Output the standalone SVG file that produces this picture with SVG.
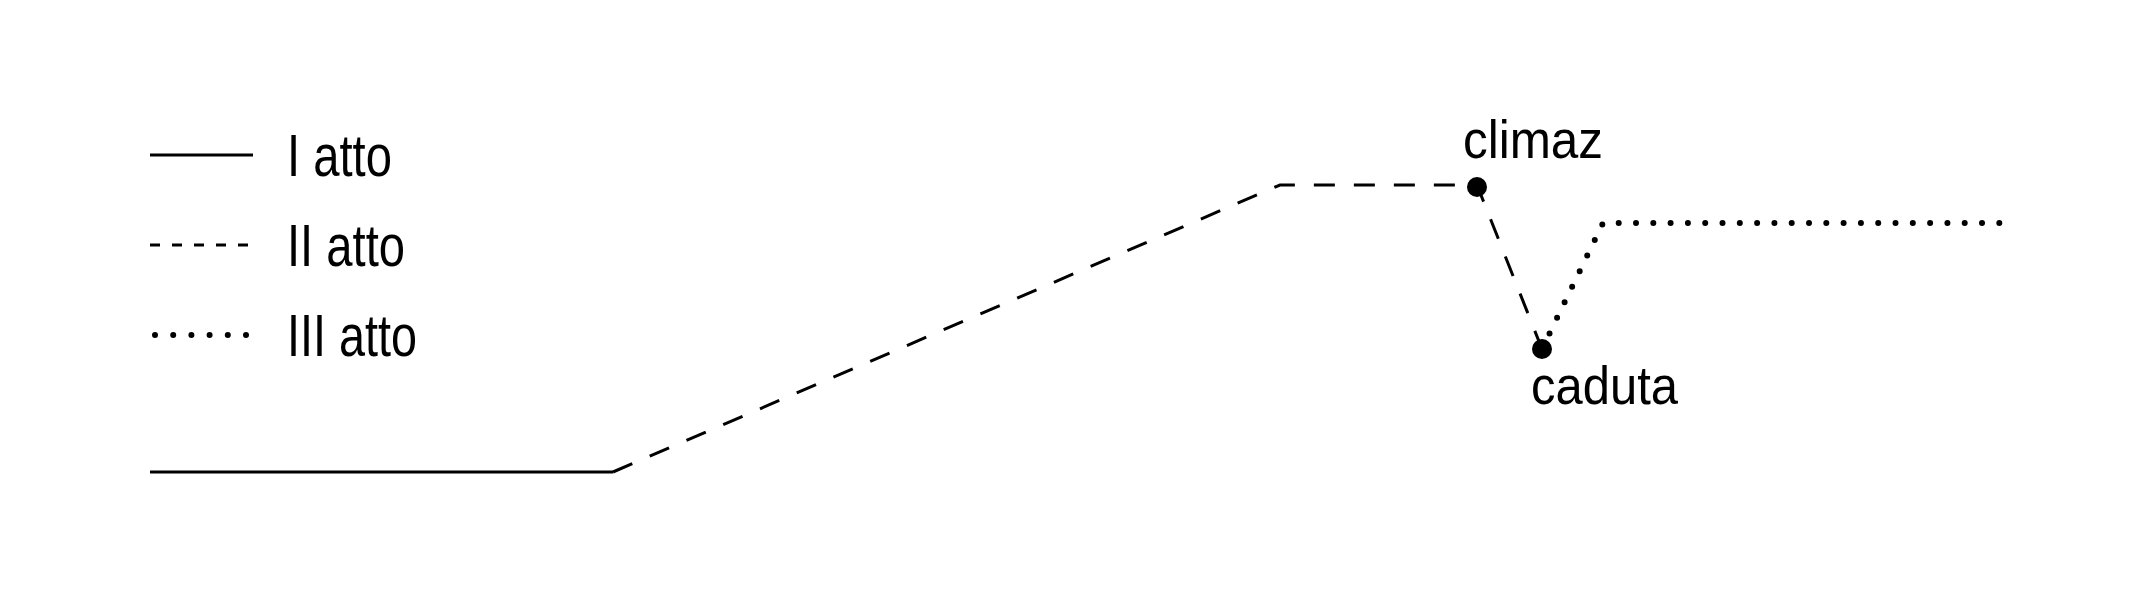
<svg xmlns="http://www.w3.org/2000/svg" width="2154" height="591" viewBox="0 0 2154 591">
<style>
.ln{fill:none;stroke:#000;stroke-width:3}
.dash{stroke-dasharray:21 19}
.ldash{stroke-dasharray:10 12}
.dot{stroke-width:6;stroke-linecap:round;stroke-dasharray:0 17.3}
.ldot{stroke-width:6;stroke-linecap:round;stroke-dasharray:0 18.2}
.t{font-family:"Liberation Sans","DejaVu Sans",sans-serif;fill:#000}
.pt{fill:#000}
</style>
<rect width="2154" height="591" fill="#fff"/>
<g id="legend">
  <line class="ln" x1="150" y1="155" x2="253" y2="155"/>
  <text class="t" x="287" y="176" font-size="59" textLength="105" lengthAdjust="spacingAndGlyphs">I atto</text>
  <line class="ln ldash" x1="150" y1="245" x2="253" y2="245"/>
  <text class="t" x="287" y="266" font-size="59" textLength="118" lengthAdjust="spacingAndGlyphs">II atto</text>
  <line class="ln ldot" x1="155" y1="335" x2="250" y2="335"/>
  <text class="t" x="287" y="356" font-size="59" textLength="130" lengthAdjust="spacingAndGlyphs">III atto</text>
</g>
<g id="connectors">
  <path id="atto1" class="ln" d="M150 472 H613"/>
  <path id="atto2" class="ln dash" d="M613 472 L1280 185 H1477 L1542 349"/>
  <path id="atto3" class="ln dot" d="M1542 349 L1603 223 H2003"/>
</g>
<g id="climaz">
  <circle class="pt" cx="1477" cy="187" r="10"/>
  <text class="t" x="1463" y="158" font-size="54" textLength="140" lengthAdjust="spacingAndGlyphs">climaz</text>
</g>
<g id="caduta">
  <circle class="pt" cx="1542" cy="349" r="10"/>
  <text class="t" x="1531" y="404" font-size="54" textLength="147" lengthAdjust="spacingAndGlyphs">caduta</text>
</g>
</svg>
